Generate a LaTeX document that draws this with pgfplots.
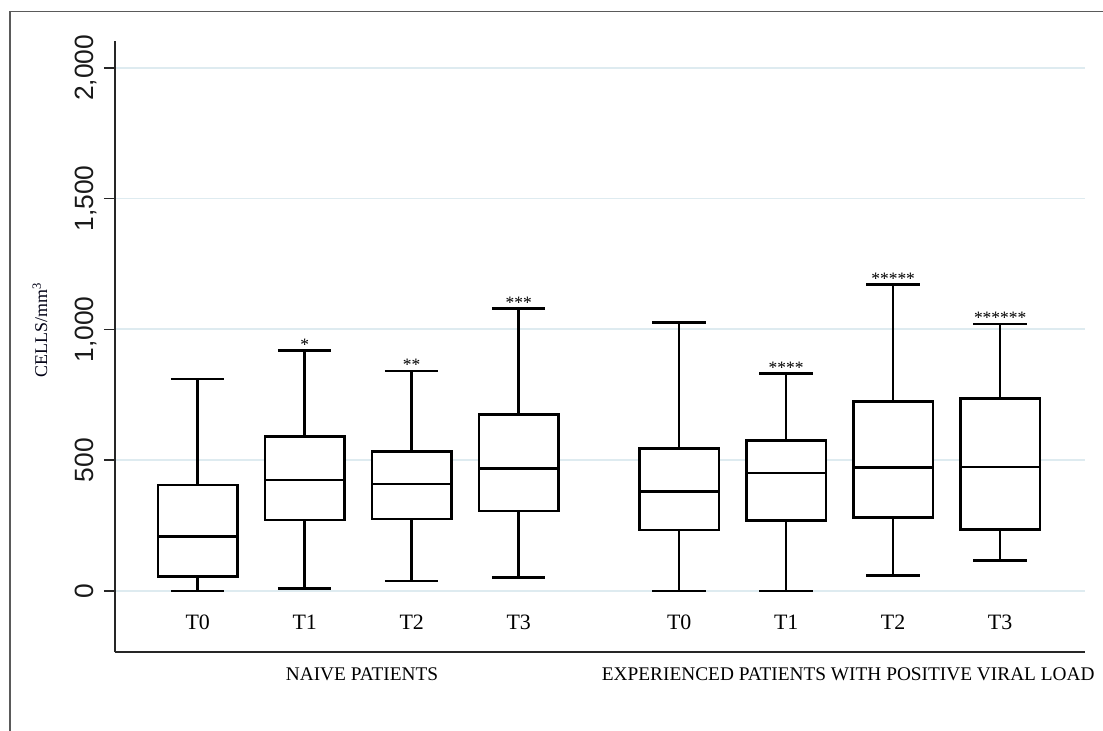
\documentclass[border=0pt]{standalone}
\usepackage{fontspec}
\setmainfont{Liberation Serif}
\newfontfamily\arialfont{Liberation Sans}
\usepackage{pgfplots}
\pgfplotsset{compat=1.18}
\definecolor{gridc}{RGB}{222,235,240}
\definecolor{framec}{RGB}{90,90,90}
\newcommand\tlfont{\fontsize{22}{24}\selectfont}
\newcommand\grpfont{\fontsize{19.4}{22}\selectfont}
\newcommand\starfont{\fontsize{17.5}{19}\selectfont}
\pgfplotsset{bx/.style={draw=black, line width=2.5bp, mark=none, forget plot}}
\begin{document}
\begin{tikzpicture}
\path[use as bounding box] (0bp,0bp) rectangle (1103bp,731bp);
\draw[framec, line width=1.3bp] (10bp,-5bp) -- (10bp,719.3bp) -- (1110bp,719.3bp);
\begin{axis}[
  at={(115bp,78.7bp)}, anchor=south west, scale only axis,
  width=970bp, height=611.6bp,
  xmin=-0.773, xmax=8.293, ymin=-234.3, ymax=2103.5,
  axis x line*=bottom, axis y line*=left,
  axis line style={-, draw=black!85, line width=1.8bp},
  xtick=\empty,
  ytick={0,500,1000,1500,2000},
  yticklabels={0,500,{1,000},{1,500},{2,000}},
  yticklabel style={font=\arialfont\fontsize{26.5}{28}\selectfont, rotate=90, anchor=base, text=black!90},
  yticklabel shift=10bp,
  tick align=outside, major tick length=11bp,
  tick style={black!85, line width=1.5bp},
  ymajorgrids, grid style={gridc, line width=1.8bp},
  clip=false,
]
% ---- NAIVE T0 (pos 0): 0, 56, 209, 405, 811
\addplot[bx] coordinates {(0,0) (0,56)};
\addplot[bx] coordinates {(0,405) (0,811)};
\addplot[bx] coordinates {(-0.25,0) (0.25,0)};
\addplot[bx] coordinates {(-0.25,811) (0.25,811)};
\addplot[bx, fill=white] coordinates {(-0.37,56) (0.37,56) (0.37,405) (-0.37,405)} -- cycle;
\addplot[bx] coordinates {(-0.37,209) (0.37,209)};
% ---- NAIVE T1 (pos 1): 9, 271, 424, 590, 920
\addplot[bx] coordinates {(1,9) (1,271)};
\addplot[bx] coordinates {(1,590) (1,920)};
\addplot[bx] coordinates {(0.75,9) (1.25,9)};
\addplot[bx] coordinates {(0.75,920) (1.25,920)};
\addplot[bx, fill=white] coordinates {(0.63,271) (1.37,271) (1.37,590) (0.63,590)} -- cycle;
\addplot[bx] coordinates {(0.63,424) (1.37,424)};
% ---- NAIVE T2 (pos 2): 38, 275, 409, 534, 841
\addplot[bx] coordinates {(2,38) (2,275)};
\addplot[bx] coordinates {(2,534) (2,841)};
\addplot[bx] coordinates {(1.75,38) (2.25,38)};
\addplot[bx] coordinates {(1.75,841) (2.25,841)};
\addplot[bx, fill=white] coordinates {(1.63,275) (2.37,275) (2.37,534) (1.63,534)} -- cycle;
\addplot[bx] coordinates {(1.63,409) (2.37,409)};
% ---- NAIVE T3 (pos 3): 51, 306, 468, 675, 1079
\addplot[bx] coordinates {(3,51) (3,306)};
\addplot[bx] coordinates {(3,675) (3,1079)};
\addplot[bx] coordinates {(2.75,51) (3.25,51)};
\addplot[bx] coordinates {(2.75,1079) (3.25,1079)};
\addplot[bx, fill=white] coordinates {(2.63,306) (3.37,306) (3.37,675) (2.63,675)} -- cycle;
\addplot[bx] coordinates {(2.63,468) (3.37,468)};
% ---- EXPERIENCED T0 (pos 4.5): 0, 233, 380, 545, 1026
\addplot[bx] coordinates {(4.5,0) (4.5,233)};
\addplot[bx] coordinates {(4.5,545) (4.5,1026)};
\addplot[bx] coordinates {(4.25,0) (4.75,0)};
\addplot[bx] coordinates {(4.25,1026) (4.75,1026)};
\addplot[bx, fill=white] coordinates {(4.13,233) (4.87,233) (4.87,545) (4.13,545)} -- cycle;
\addplot[bx] coordinates {(4.13,380) (4.87,380)};
% ---- EXPERIENCED T1 (pos 5.5): 0, 270, 452, 575, 831
\addplot[bx] coordinates {(5.5,0) (5.5,270)};
\addplot[bx] coordinates {(5.5,575) (5.5,831)};
\addplot[bx] coordinates {(5.25,0) (5.75,0)};
\addplot[bx] coordinates {(5.25,831) (5.75,831)};
\addplot[bx, fill=white] coordinates {(5.13,270) (5.87,270) (5.87,575) (5.13,575)} -- cycle;
\addplot[bx] coordinates {(5.13,452) (5.87,452)};
% ---- EXPERIENCED T2 (pos 6.5): 60, 280, 473, 724, 1171
\addplot[bx] coordinates {(6.5,60) (6.5,280)};
\addplot[bx] coordinates {(6.5,724) (6.5,1171)};
\addplot[bx] coordinates {(6.25,60) (6.75,60)};
\addplot[bx] coordinates {(6.25,1171) (6.75,1171)};
\addplot[bx, fill=white] coordinates {(6.13,280) (6.87,280) (6.87,724) (6.13,724)} -- cycle;
\addplot[bx] coordinates {(6.13,473) (6.87,473)};
% ---- EXPERIENCED T3 (pos 7.5): 116, 236, 474, 735, 1021
\addplot[bx] coordinates {(7.5,116) (7.5,236)};
\addplot[bx] coordinates {(7.5,735) (7.5,1021)};
\addplot[bx] coordinates {(7.25,116) (7.75,116)};
\addplot[bx] coordinates {(7.25,1021) (7.75,1021)};
\addplot[bx, fill=white] coordinates {(7.13,236) (7.87,236) (7.87,735) (7.13,735)} -- cycle;
\addplot[bx] coordinates {(7.13,474) (7.87,474)};
% significance stars
\node[font=\starfont, anchor=base] at (axis cs:1,920) {*};
\node[font=\starfont, anchor=base] at (axis cs:2,841) {**};
\node[font=\starfont, anchor=base] at (axis cs:3,1079) {***};
\node[font=\starfont, anchor=base] at (axis cs:5.5,831) {****};
\node[font=\starfont, anchor=base] at (axis cs:6.5,1171) {*****};
\node[font=\starfont, anchor=base] at (axis cs:7.5,1021) {******};
% time labels
\node[font=\tlfont] at (axis cs:0,-121) {T0};
\node[font=\tlfont] at (axis cs:1,-121) {T1};
\node[font=\tlfont] at (axis cs:2,-121) {T2};
\node[font=\tlfont] at (axis cs:3,-121) {T3};
\node[font=\tlfont] at (axis cs:4.5,-121) {T0};
\node[font=\tlfont] at (axis cs:5.5,-121) {T1};
\node[font=\tlfont] at (axis cs:6.5,-121) {T2};
\node[font=\tlfont] at (axis cs:7.5,-121) {T3};
% group labels
\node[font=\grpfont] at (axis cs:1.536,-317) {NAIVE PATIENTS};
\node[font=\grpfont] at (axis cs:6.08,-317) {EXPERIENCED PATIENTS WITH POSITIVE VIRAL LOAD};
% y label
\node[rotate=90, font=\fontsize{18}{20}\selectfont, text=black!92!blue] at (axis cs:-1.474,998) {CELLS/mm\textsuperscript{3}};
\end{axis}
\end{tikzpicture}
\end{document}
